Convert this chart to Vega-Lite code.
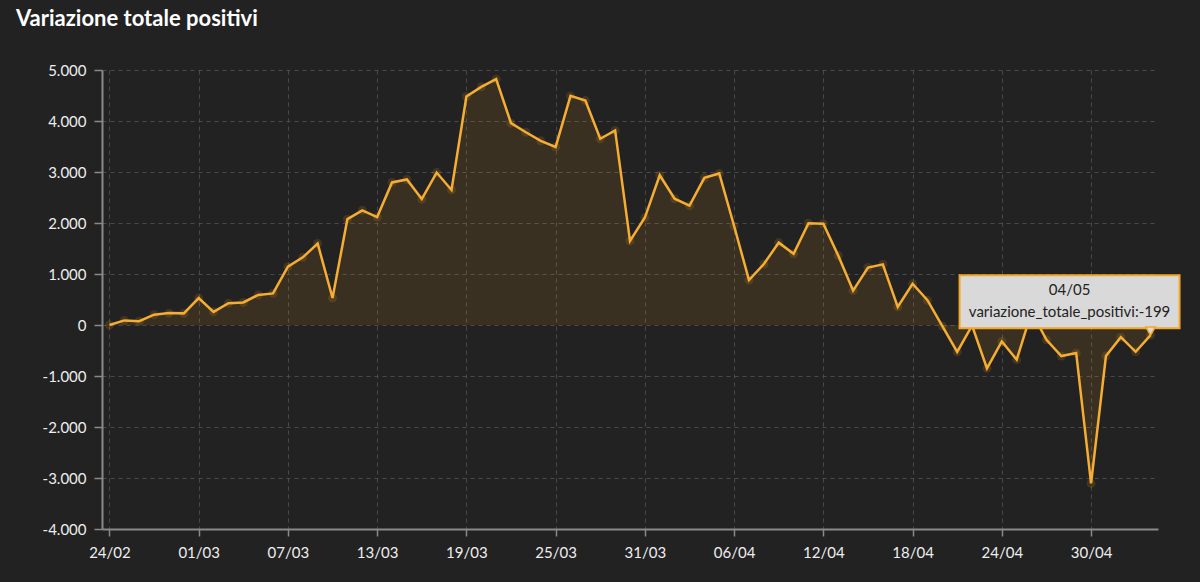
{
  "$schema": "https://vega.github.io/schema/vega-lite/v6.json",
  "width": 1056,
  "height": 459,
  "autosize": {"type": "none"},
  "padding": {"left": 102, "top": 70, "right": 42, "bottom": 53},
  "background": "#222222",
  "title": {
    "text": "Variazione totale positivi",
    "anchor": "start",
    "frame": "group",
    "dx": -86,
    "offset": 32,
    "fontSize": 22,
    "font": "Lato",
    "fontWeight": "bold",
    "color": "#ffffff"
  },
  "config": {
    "view": {"stroke": null},
    "locale": {"number": {"decimal": ",", "thousands": ".", "grouping": [3], "currency": ["€", ""], "minus": "-"}},
    "axis": {
      "labelFont": "Lato",
      "labelFontSize": 15,
      "labelColor": "#eeeeee",
      "domainColor": "#8a8a8a",
      "domainWidth": 2,
      "tickColor": "#8a8a8a",
      "tickWidth": 1.5,
      "gridColor": "#4a4a4a",
      "gridDash": [4, 4],
      "gridWidth": 1,
      "title": null
    }
  },
  "data": {
    "values": [
      {"data": "2020-02-24", "variazione_totale_positivi": 0},
      {"data": "2020-02-25", "variazione_totale_positivi": 90},
      {"data": "2020-02-26", "variazione_totale_positivi": 74},
      {"data": "2020-02-27", "variazione_totale_positivi": 203},
      {"data": "2020-02-28", "variazione_totale_positivi": 233},
      {"data": "2020-02-29", "variazione_totale_positivi": 228},
      {"data": "2020-03-01", "variazione_totale_positivi": 528},
      {"data": "2020-03-02", "variazione_totale_positivi": 258},
      {"data": "2020-03-03", "variazione_totale_positivi": 428},
      {"data": "2020-03-04", "variazione_totale_positivi": 443},
      {"data": "2020-03-05", "variazione_totale_positivi": 590},
      {"data": "2020-03-06", "variazione_totale_positivi": 620},
      {"data": "2020-03-07", "variazione_totale_positivi": 1145},
      {"data": "2020-03-08", "variazione_totale_positivi": 1326},
      {"data": "2020-03-09", "variazione_totale_positivi": 1598},
      {"data": "2020-03-10", "variazione_totale_positivi": 529},
      {"data": "2020-03-11", "variazione_totale_positivi": 2076},
      {"data": "2020-03-12", "variazione_totale_positivi": 2249},
      {"data": "2020-03-13", "variazione_totale_positivi": 2116},
      {"data": "2020-03-14", "variazione_totale_positivi": 2795},
      {"data": "2020-03-15", "variazione_totale_positivi": 2853},
      {"data": "2020-03-16", "variazione_totale_positivi": 2470},
      {"data": "2020-03-17", "variazione_totale_positivi": 2989},
      {"data": "2020-03-18", "variazione_totale_positivi": 2648},
      {"data": "2020-03-19", "variazione_totale_positivi": 4480},
      {"data": "2020-03-20", "variazione_totale_positivi": 4670},
      {"data": "2020-03-21", "variazione_totale_positivi": 4821},
      {"data": "2020-03-22", "variazione_totale_positivi": 3957},
      {"data": "2020-03-23", "variazione_totale_positivi": 3780},
      {"data": "2020-03-24", "variazione_totale_positivi": 3612},
      {"data": "2020-03-25", "variazione_totale_positivi": 3491},
      {"data": "2020-03-26", "variazione_totale_positivi": 4492},
      {"data": "2020-03-27", "variazione_totale_positivi": 4401},
      {"data": "2020-03-28", "variazione_totale_positivi": 3651},
      {"data": "2020-03-29", "variazione_totale_positivi": 3815},
      {"data": "2020-03-30", "variazione_totale_positivi": 1648},
      {"data": "2020-03-31", "variazione_totale_positivi": 2107},
      {"data": "2020-04-01", "variazione_totale_positivi": 2937},
      {"data": "2020-04-02", "variazione_totale_positivi": 2477},
      {"data": "2020-04-03", "variazione_totale_positivi": 2339},
      {"data": "2020-04-04", "variazione_totale_positivi": 2886},
      {"data": "2020-04-05", "variazione_totale_positivi": 2972},
      {"data": "2020-04-06", "variazione_totale_positivi": 1941},
      {"data": "2020-04-07", "variazione_totale_positivi": 880},
      {"data": "2020-04-08", "variazione_totale_positivi": 1195},
      {"data": "2020-04-09", "variazione_totale_positivi": 1615},
      {"data": "2020-04-10", "variazione_totale_positivi": 1396},
      {"data": "2020-04-11", "variazione_totale_positivi": 1996},
      {"data": "2020-04-12", "variazione_totale_positivi": 1984},
      {"data": "2020-04-13", "variazione_totale_positivi": 1363},
      {"data": "2020-04-14", "variazione_totale_positivi": 675},
      {"data": "2020-04-15", "variazione_totale_positivi": 1127},
      {"data": "2020-04-16", "variazione_totale_positivi": 1189},
      {"data": "2020-04-17", "variazione_totale_positivi": 355},
      {"data": "2020-04-18", "variazione_totale_positivi": 809},
      {"data": "2020-04-19", "variazione_totale_positivi": 486},
      {"data": "2020-04-20", "variazione_totale_positivi": -20},
      {"data": "2020-04-21", "variazione_totale_positivi": -528},
      {"data": "2020-04-22", "variazione_totale_positivi": -10},
      {"data": "2020-04-23", "variazione_totale_positivi": -851},
      {"data": "2020-04-24", "variazione_totale_positivi": -321},
      {"data": "2020-04-25", "variazione_totale_positivi": -680},
      {"data": "2020-04-26", "variazione_totale_positivi": 256},
      {"data": "2020-04-27", "variazione_totale_positivi": -290},
      {"data": "2020-04-28", "variazione_totale_positivi": -608},
      {"data": "2020-04-29", "variazione_totale_positivi": -548},
      {"data": "2020-04-30", "variazione_totale_positivi": -3106},
      {"data": "2020-05-01", "variazione_totale_positivi": -608},
      {"data": "2020-05-02", "variazione_totale_positivi": -239},
      {"data": "2020-05-03", "variazione_totale_positivi": -525},
      {"data": "2020-05-04", "variazione_totale_positivi": -199}
    ]
  },
  "encoding": {
    "x": {
      "field": "data",
      "type": "temporal",
      "scale": {
        "type": "utc",
        "domain": [
          {"year": 2020, "month": 2, "date": 23, "hours": 12, "utc": true},
          {"year": 2020, "month": 5, "date": 4, "hours": 12, "utc": true}
        ]
      },
      "axis": {
        "values": [
          {"year": 2020, "month": 2, "date": 24, "utc": true},
          {"year": 2020, "month": 3, "date": 1, "utc": true},
          {"year": 2020, "month": 3, "date": 7, "utc": true},
          {"year": 2020, "month": 3, "date": 13, "utc": true},
          {"year": 2020, "month": 3, "date": 19, "utc": true},
          {"year": 2020, "month": 3, "date": 25, "utc": true},
          {"year": 2020, "month": 3, "date": 31, "utc": true},
          {"year": 2020, "month": 4, "date": 6, "utc": true},
          {"year": 2020, "month": 4, "date": 12, "utc": true},
          {"year": 2020, "month": 4, "date": 18, "utc": true},
          {"year": 2020, "month": 4, "date": 24, "utc": true},
          {"year": 2020, "month": 4, "date": 30, "utc": true}
        ],
        "labelExpr": "utcFormat(datum.value, '%d/%m')",
        "tickSize": 7,
        "labelPadding": 9,
        "grid": true
      }
    },
    "y": {
      "field": "variazione_totale_positivi",
      "type": "quantitative",
      "scale": {"domain": [-4000, 5000], "nice": false},
      "axis": {
        "values": [-4000, -3000, -2000, -1000, 0, 1000, 2000, 3000, 4000, 5000],
        "format": ",d",
        "tickSize": 8,
        "labelPadding": 8,
        "grid": true
      }
    }
  },
  "layer": [
    {"mark": {"type": "area", "color": "#f5a623", "opacity": 0.11}},
    {"mark": {"type": "point", "filled": true, "color": "#f5a623", "opacity": 0.15, "size": 80}},
    {"mark": {"type": "line", "color": "#f6ad33", "strokeWidth": 2.5}},
    {
      "transform": [{"filter": "datum.variazione_totale_positivi === -199"}],
      "mark": {"type": "rect", "fill": "#d9d9d9", "stroke": "#f5a623", "strokeWidth": 2, "xOffset": -191, "x2Offset": 29, "yOffset": -60, "y2Offset": -7},
      "encoding": {
        "x2": {"field": "data"},
        "y2": {"field": "variazione_totale_positivi"}
      }
    },
    {
      "transform": [{"filter": "datum.variazione_totale_positivi === -199"}],
      "mark": {"type": "point", "shape": "triangle-down", "filled": true, "fill": "#d9d9d9", "stroke": "#f5a623", "strokeWidth": 1.5, "opacity": 1, "size": 90, "yOffset": -4}
    },
    {
      "transform": [{"filter": "datum.variazione_totale_positivi === -199"}],
      "mark": {"type": "text", "text": "04/05", "font": "Lato", "fontSize": 15, "color": "#222222", "dx": -81, "dy": -45, "align": "center", "baseline": "middle"}
    },
    {
      "transform": [{"filter": "datum.variazione_totale_positivi === -199"}],
      "mark": {"type": "text", "text": "variazione_totale_positivi:-199", "font": "Lato", "fontSize": 15, "color": "#222222", "dx": -81, "dy": -23, "align": "center", "baseline": "middle"}
    }
  ]
}
